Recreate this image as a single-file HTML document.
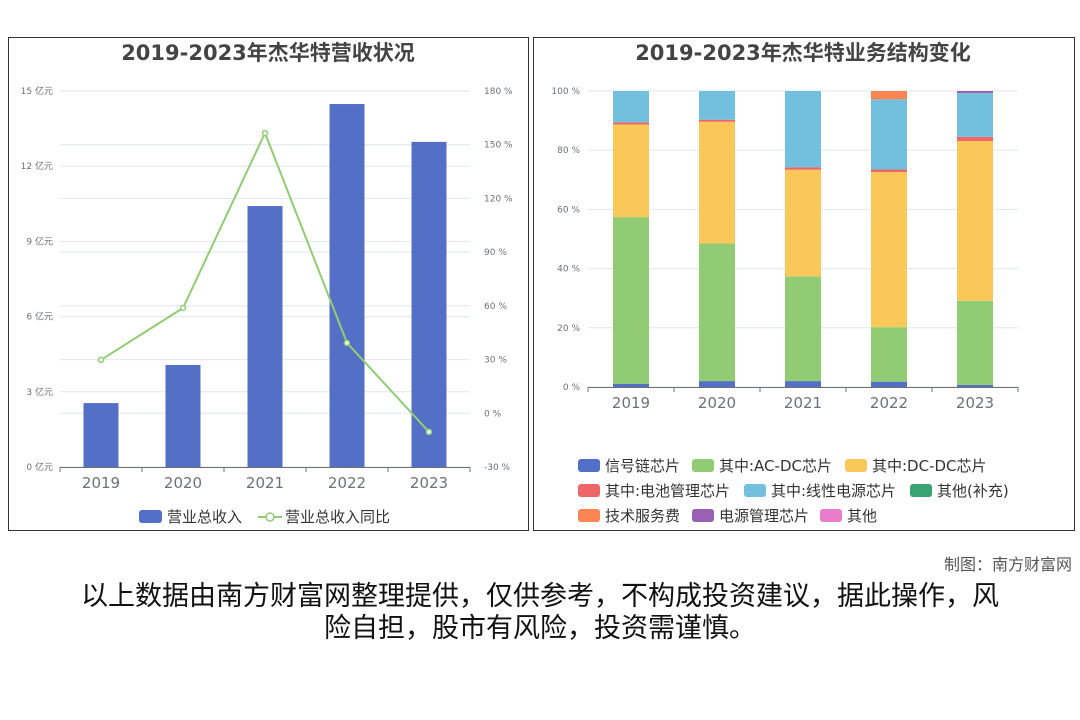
<!DOCTYPE html>
<html><head><meta charset="utf-8">
<style>
body{margin:0;width:1080px;height:720px;background:#fff;overflow:hidden;font-family:"DejaVu Sans","Noto Sans CJK SC",sans-serif;}
svg{position:absolute;left:0;top:0}
.foot{position:absolute;right:8px;top:551px;font-size:16px;color:#555}
.disc{position:absolute;left:20px;width:1040px;top:581px;text-align:center;font-size:27px;line-height:32px;color:#111}
</style></head><body>
<svg id="c" width="1080" height="720"></svg>
<div class="foot">制图：南方财富网</div>
<div class="disc">以上数据由南方财富网整理提供，仅供参考，不构成投资建议，据此操作，风<br>险自担，股市有风险，投资需谨慎。</div>
<script>
const years=["2019","2020","2021","2022","2023"];
const revenue=[2.55,4.07,10.41,14.48,12.97];
const growth=[29.8,58.8,156.5,39.3,-10.4];
const leftTicks=[0,3,6,9,12,15];
const rightTicks=[-30,0,30,60,90,120,150,180];
const seriesNames=["信号链芯片","其中:AC-DC芯片","其中:DC-DC芯片","其中:电池管理芯片","其中:线性电源芯片","其他(补充)","技术服务费","电源管理芯片","其他"];
const signalChain=[1.1,2.0,2.0,1.8,0.7];
const acdc=[56.3,46.5,35.4,18.4,28.4];
const dcdc=[31.3,41.1,36.0,52.4,54.0];
const battery=[0.7,0.7,0.8,0.9,1.4];
const linear=[10.6,9.7,25.8,23.7,14.8];
const otherSupp=[0,0,0,0,0];
const techService=[0,0,0,2.8,0];
const powerMgmt=[0,0,0,0,0.7];
const others=[0,0,0,0,0];
const pctTicks=[0,20,40,60,80,100];
const stacks=[signalChain,acdc,dcdc,battery,linear,otherSupp,techService,powerMgmt,others];
const colors=["#5470c6","#91cc75","#fac858","#ee6666","#73c0de","#3ba272","#fc8452","#9a60b4","#ea7ccc"];

const svg=document.getElementById('c');const NS="http://www.w3.org/2000/svg";
function el(t,a,txt){const e=document.createElementNS(NS,t);for(const k in a)e.setAttribute(k,a[k]);if(txt!==undefined)e.textContent=txt;svg.appendChild(e);return e;}

let p=el('rect',{x:8.5,y:37.5,width:520,height:493,fill:'none',stroke:'#333'});

p=el('rect',{x:533.5,y:37.5,width:541,height:493,fill:'none',stroke:'#333'});

let t=el('text',{x:268,y:60,'text-anchor':'middle','font-size':21,'font-weight':'bold',fill:'#444'},'2019-2023年杰华特营收状况');

t=el('text',{x:803,y:60,'text-anchor':'middle','font-size':21,'font-weight':'bold',fill:'#444'},'2019-2023年杰华特业务结构变化');


const L={x0:60,x1:470,y0:467,y1:91};
const cw=(L.x1-L.x0)/years.length;
const yL=v=>L.y0-(v-0)/15*(L.y0-L.y1);
const yR=v=>L.y0-(v+30)/210*(L.y0-L.y1);
const xC=i=>L.x0+cw*(i+0.5);
leftTicks.forEach(v=>{let g=el('line',{x1:L.x0,x2:L.x1,y1:yL(v),y2:yL(v),stroke:'#e0e6f1'});
 let l=el('text',{x:53,y:yL(v)+3,'text-anchor':'end','font-size':9,fill:'#6e7079'},v+' 亿元');});
rightTicks.forEach(v=>{let g=el('line',{x1:L.x0,x2:L.x1,y1:yR(v),y2:yR(v),stroke:'#e0e6f1'});
 let l=el('text',{x:484,y:yR(v)+3,'font-size':9,fill:'#6e7079'},v+' %');});
revenue.forEach((v,i)=>{let r=el('rect',{x:xC(i)-17.5,y:yL(v),width:35,height:L.y0-yL(v),fill:'#5470c6'});});
let ax=el('line',{x1:L.x0,x2:L.x1,y1:L.y0+.5,y2:L.y0+.5,stroke:'#6e7079'});
years.forEach((y,i)=>{let k=el('line',{x1:L.x0+cw*i,x2:L.x0+cw*i,y1:L.y0,y2:L.y0+5,stroke:'#6e7079'});
 let l=el('text',{x:xC(i),y:488,'text-anchor':'middle','font-size':15,fill:'#6e7079'},y);});
let k=el('line',{x1:L.x1,x2:L.x1,y1:L.y0,y2:L.y0+5,stroke:'#6e7079'});
let ln=el('polyline',{points:growth.map((v,i)=>xC(i)+','+yR(v)).join(' '),fill:'none',stroke:'#91cc75','stroke-width':2});

growth.forEach((v,i)=>{let c=el('circle',{cx:xC(i),cy:yR(v),r:2.5,fill:'#fff',stroke:'#91cc75','stroke-width':1.5});});
let s=el('rect',{x:139,y:510,width:23,height:13,rx:3,fill:'#5470c6'});
t=el('text',{x:167,y:522,'font-size':15,fill:'#333'},'营业总收入');
s=el('line',{x1:258,x2:282,y1:517,y2:517,stroke:'#91cc75','stroke-width':2});
s=el('circle',{cx:270,cy:517,r:4,fill:'#fff',stroke:'#91cc75','stroke-width':1.5});
t=el('text',{x:285,y:522,'font-size':15,fill:'#333'},'营业总收入同比');

const R={x0:588,x1:1018,y0:387,y1:91};
const rw=(R.x1-R.x0)/years.length;
const yP=v=>R.y0-v/100*(R.y0-R.y1);
pctTicks.forEach(v=>{let g=el('line',{x1:R.x0,x2:R.x1,y1:yP(v),y2:yP(v),stroke:'#e0e6f1'});
 let l=el('text',{x:580,y:yP(v)+3,'text-anchor':'end','font-size':9,fill:'#6e7079'},v+' %');});
years.forEach((y,i)=>{let base=0;stacks.forEach((ser,j)=>{const v=ser[i];if(v<=0)return;
 let r=el('rect',{x:R.x0+rw*(i+0.5)-18,y:yP(base+v),width:36,height:yP(base)-yP(base+v),fill:colors[j]});
 base+=v;});});
ax=el('line',{x1:R.x0,x2:R.x1,y1:R.y0+.5,y2:R.y0+.5,stroke:'#6e7079'});
for(let i=0;i<=years.length;i++){let k=el('line',{x1:R.x0+rw*i,x2:R.x0+rw*i,y1:R.y0,y2:R.y0+5,stroke:'#6e7079'});}
years.forEach((y,i)=>{let l=el('text',{x:R.x0+rw*(i+0.5),y:408,'text-anchor':'middle','font-size':15,fill:'#6e7079'},y);});
const lx=[578,692,845,578,744,910,578,692,820];const ly=[466,466,466,491,491,491,516,516,516];
seriesNames.forEach((n,j)=>{let r=el('rect',{x:lx[j],y:ly[j]-7,width:22,height:13,rx:3,fill:colors[j]});
 let l=el('text',{x:lx[j]+27,y:ly[j]+5,'font-size':15,fill:'#333'},n);});
</script>
</body></html>
